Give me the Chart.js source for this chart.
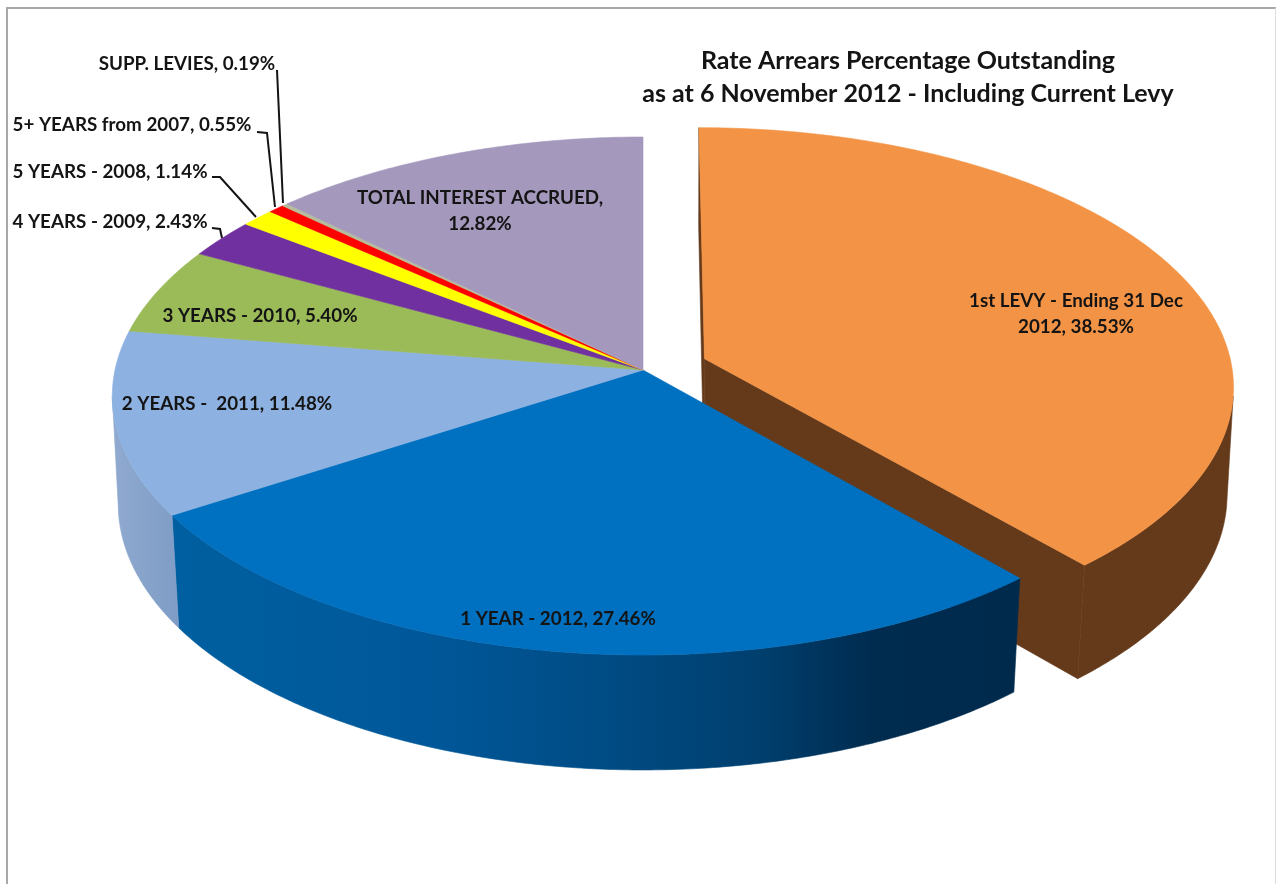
<!DOCTYPE html>
<html lang="en">
<head>
    <meta charset="UTF-8">
    <title>Rate Arrears Percentage Outstanding</title>
    <style>
        html, body { margin: 0; padding: 0; background: #fff; overflow: hidden; }
        #wrap { position: relative; width: 1277px; height: 884px; }
        #frame { position: absolute; left: 6px; top: 7px; width: 1267px; height: 875px;
                 border-left: 2px solid #a8a8a8; border-top: 2px solid #a8a8a8;
                 border-right: 1px solid #dedede; border-bottom: 1px solid #eee; }
        canvas { position: absolute; left: 0; top: 0; }
    </style>
</head>
<body>
    <div id="wrap">
        <div id="frame"></div>
        <canvas id="pieChart" width="1277" height="884"></canvas>
    </div>

    <script src="https://cdn.jsdelivr.net/npm/chart.js"></script>
    <script>
        const categories = ['1st LEVY - Ending 31 Dec 2012', '1 YEAR - 2012', '2 YEARS -  2011', '3 YEARS - 2010',
            '4 YEARS - 2009', '5 YEARS - 2008', '5+ YEARS from 2007', 'SUPP. LEVIES', 'TOTAL INTEREST ACCRUED'];
        const percents = [38.53, 27.46, 11.48, 5.40, 2.43, 1.14, 0.55, 0.19, 12.82];
        const titleLines = ['Rate Arrears Percentage Outstanding', 'as at 6 November 2012 - Including Current Levy'];

        const topColors = ['#F39345', '#0070C0', '#8DB1E0', '#9BBB59', '#7030A0', '#FFFF00', '#FF0000', '#B5BD9A', '#A598BD'];
        const wallColors = ['#653A1B', '#005FA0', '#8AA5CC', '#6E8540', '#4E2070', '#B0B000', '#B00000', '#808870', '#75698A'];
        const sliceOffsets = [66, 0, 0, 0, 0, 0, 0, 0, 0];

        // where each label goes: centre x, first line y
        const labelSpots = [[1076, 301], [558, 619], [227, 404], [260, 316], [110, 222], [110, 172], [132, 125], [187, 64], [480, 198]];
        const leaderLines = [
            null, null, null, null,
            [[212, 228], [220, 229], [222, 238]],
            [[212, 177], [220, 177], [256, 217]],
            [[257, 132], [267, 133], [275, 207]],
            [[277, 70], [283, 203]],
            null
        ];

        // camera for the tilted pie, fitted to the picture
        const view = { cx: 643, cy: 370, R: 528, a: 256.4, k: -0.1004, b: 110, m0: 0.0105, m1: 0.006 };

        function project(u, v, h) {
            const w = 1 + view.k * v + h * (view.m0 + view.m1 * v);
            return { x: view.cx + view.R * u / w, y: view.cy + (view.a * v + view.b * h) / w };
        }

        // angle from the chart's arc element -> point on the pie disc
        function discPoint(angle, el, h, r) {
            const off = (el.options.offset || 0) / view.R;
            const mid = (el.startAngle + el.endAngle) / 2;
            const u = r * Math.cos(angle) + off * Math.cos(mid);
            const v = r * Math.sin(angle) + off * Math.sin(mid);
            return project(u, v, h);
        }

        function arcSamples(el, from, to, h) {
            const pts = [];
            const n = Math.max(2, Math.ceil((to - from) / 0.01));
            for (let s = 0; s <= n; s++) {
                pts.push(discPoint(from + (to - from) * s / n, el, h, 1));
            }
            return pts;
        }

        function fillPoly(ctx, pts, fill) {
            ctx.beginPath();
            pts.forEach((p, n) => n ? ctx.lineTo(p.x, p.y) : ctx.moveTo(p.x, p.y));
            ctx.closePath();
            ctx.fillStyle = fill;
            ctx.strokeStyle = fill;
            ctx.lineWidth = 0.6;
            ctx.fill();
            ctx.stroke();
        }

        function wallFill(ctx, i) {
            let stops = null;
            if (i === 1) {
                stops = [[175, '#005FA0'], [420, '#00589A'], [600, '#004C85'], [760, '#003F6E'], [870, '#002C50'], [1020, '#002A4C']];
            } else if (i === 2) {
                stops = [[115, '#8FA9CF'], [175, '#7F9DC6']];
            }
            if (!stops) return wallColors[i];
            const g = ctx.createLinearGradient(stops[0][0], 0, stops[stops.length - 1][0], 0);
            const span = stops[stops.length - 1][0] - stops[0][0];
            stops.forEach(s => g.addColorStop((s[0] - stops[0][0]) / span, s[1]));
            return g;
        }

        function drawWalls(ctx, el, i) {
            const fill = wallFill(ctx, i);
            if (el.options.offset) {
                // cut faces only show on a slice pulled out of the pie
                [el.startAngle, el.endAngle].forEach(angle => {
                    fillPoly(ctx, [
                        discPoint(angle, el, 0, 0), discPoint(angle, el, 0, 1),
                        discPoint(angle, el, 1, 1), discPoint(angle, el, 1, 0)
                    ], fill);
                });
            }
            // rim runs between the two silhouette points, where the disc is widest on screen
            const off = (el.options.offset || 0) / view.R;
            const edge = Math.asin(-view.k - off * Math.sin((el.startAngle + el.endAngle) / 2));
            const from = Math.max(el.startAngle, edge);
            const to = Math.min(el.endAngle, Math.PI - edge);
            if (to <= from) return;
            fillPoly(ctx, arcSamples(el, from, to, 0).concat(arcSamples(el, from, to, 1).reverse()), fill);
        }

        function drawTop(ctx, el, i) {
            fillPoly(ctx, [discPoint(el.startAngle, el, 0, 0)].concat(arcSamples(el, el.startAngle, el.endAngle, 0)), topColors[i]);
        }

        function wrapText(ctx, text, maxWidth) {
            const lines = [];
            let line = '';
            text.split(' ').forEach(word => {
                const next = line === '' ? word : line + ' ' + word;
                if (line !== '' && ctx.measureText(next).width > maxWidth) {
                    lines.push(line);
                    line = word;
                } else {
                    line = next;
                }
            });
            lines.push(line);
            return lines;
        }

        const tiltedPie = {
            id: 'tiltedPie',
            beforeDatasetsDraw(chart) {
                const ctx = chart.ctx;
                const arcs = chart.getDatasetMeta(0).data;
                ctx.save();
                arcs.forEach((el, i) => {
                    if (el.options.offset) { drawWalls(ctx, el, i); drawTop(ctx, el, i); }
                });
                arcs.forEach((el, i) => { if (!el.options.offset) drawWalls(ctx, el, i); });
                arcs.forEach((el, i) => { if (!el.options.offset) drawTop(ctx, el, i); });
                ctx.restore();
                return false;
            },
            afterDraw(chart) {
                const ctx = chart.ctx;
                ctx.save();
                ctx.textAlign = 'center';
                ctx.textBaseline = 'middle';
                ctx.fillStyle = '#141414';

                ctx.font = 'bold 18.8px Lato';
                categories.forEach((name, i) => {
                    const text = name + ', ' + percents[i].toFixed(2) + '%';
                    const spot = labelSpots[i];
                    wrapText(ctx, text, 255).forEach((line, n) => ctx.fillText(line, spot[0], spot[1] + n * 26));
                });

                ctx.strokeStyle = '#141414';
                ctx.lineWidth = 2;
                leaderLines.forEach(pts => {
                    if (!pts) return;
                    ctx.beginPath();
                    pts.forEach((p, n) => n ? ctx.lineTo(p[0], p[1]) : ctx.moveTo(p[0], p[1]));
                    ctx.stroke();
                });

                ctx.font = 'bold 25px Lato';
                titleLines.forEach((line, n) => ctx.fillText(line, 908, 61 + n * 33));
                ctx.restore();
            }
        };

        new Chart(document.getElementById('pieChart'), {
            type: 'pie',
            data: {
                labels: categories,
                datasets: [{
                    data: percents,
                    backgroundColor: topColors,
                    offset: sliceOffsets
                }]
            },
            options: {
                responsive: false,
                animation: false,
                events: [],
                plugins: { legend: { display: false }, tooltip: { enabled: false } }
            },
            plugins: [tiltedPie]
        });
    </script>
</body>
</html>
